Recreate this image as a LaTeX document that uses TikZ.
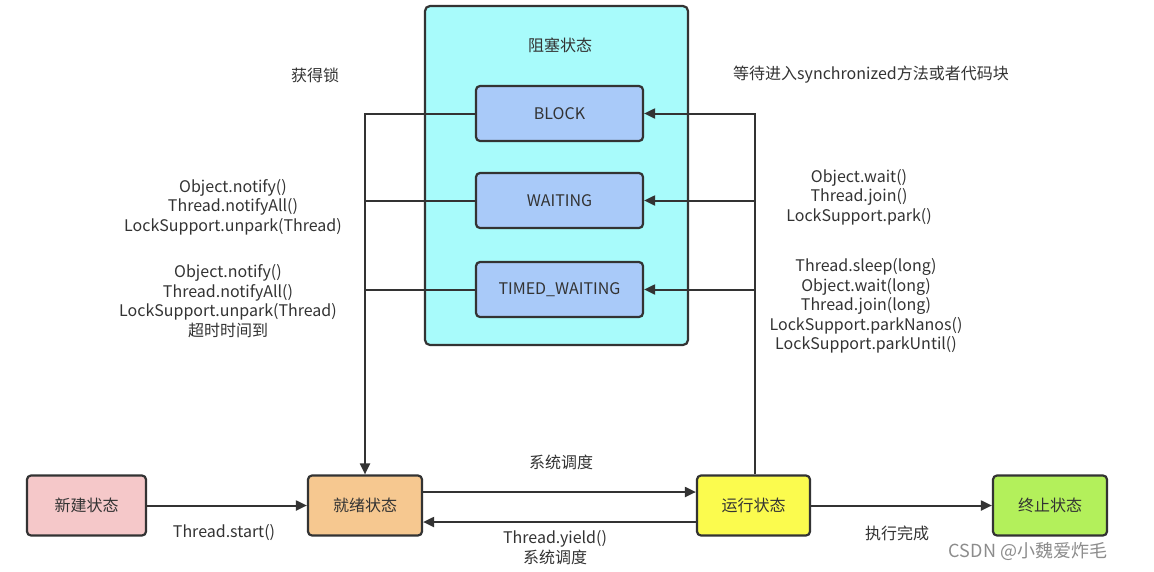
\documentclass[tikz,border=0pt]{standalone}
\usepackage{fontspec}
\setmainfont{Noto Sans CJK SC}
\usetikzlibrary{arrows.meta}
\definecolor{txt}{HTML}{333333}
\definecolor{ln}{HTML}{333333}
\definecolor{cyanbg}{HTML}{A8FBFB}
\definecolor{bluebox}{HTML}{A9CAF9}
\definecolor{pinkbox}{HTML}{F5C8C9}
\definecolor{orgbox}{HTML}{F6C890}
\definecolor{yelbox}{HTML}{FBFB4E}
\definecolor{grnbox}{HTML}{B3F05B}
\tikzset{
  statebox/.style={draw=ln, line width=2.2pt, rounded corners=4pt, minimum width=114pt, minimum height=60pt, text=txt, font=\fontsize{16}{19}\selectfont, inner sep=0pt},
  substate/.style={draw=ln, line width=2.2pt, rounded corners=4pt, minimum width=167pt, minimum height=55pt, fill=bluebox, text=txt, font=\fontsize{16}{19}\selectfont, inner sep=0pt},
  conn/.style={draw=ln, line width=2pt},
  arr/.style={conn, -{Triangle[length=11pt,width=10pt]}},
  lbl/.style={text=txt, font=\fontsize{16}{19.5}\selectfont, align=center, inner sep=0pt}
}
\begin{document}
\begin{tikzpicture}[x=1pt,y=-1pt]
\useasboundingbox[fill=white] (0,0) rectangle (1154,571);
% blocked container
\node[draw=ln, line width=2.2pt, rounded corners=5pt, fill=cyanbg, minimum width=263pt, minimum height=339pt, inner sep=0pt] (blk) at (556.5,175.5) {};
\node[lbl] (blkt) at (560,45) {阻塞状态};
\node[substate] (block) at (559.5,113.5) {BLOCK};
\node[substate] (wait) at (559.5,200.5) {WAITING};
\node[substate] (timed) at (559.5,289.5) {TIMED\_WAITING};
% main states
\node[statebox, fill=pinkbox, minimum width=119pt] (new) at (86.5,505.5) {新建状态};
\node[statebox, fill=orgbox] (ready) at (365,505.5) {就绪状态};
\node[statebox, fill=yelbox, minimum width=113pt] (run) at (753.5,505.5) {运行状态};
\node[statebox, fill=grnbox] (term) at (1050,505.5) {终止状态};
% coordinates for buses
\coordinate (lb1) at (365,113.5);
\coordinate (lb2) at (365,200.5);
\coordinate (lb3) at (365,289.5);
\coordinate (rb1) at (755,113.5);
\coordinate (rb2) at (755,200.5);
\coordinate (rb3) at (755,289.5);
% left bus
\draw[arr] (block.west) -- (lb1) -- (ready.north);
\draw[conn] (wait.west) -- (lb2);
\draw[conn] (timed.west) -- (lb3);
% right bus
\draw[arr] (run.north -| rb1) -- (rb1) -- (block.east);
\draw[arr] (rb2) -- (wait.east);
\draw[arr] (rb3) -- (timed.east);
% bottom
\draw[arr] (new.east) -- (ready.west);
\draw[arr] ([yshift=13.5pt]ready.east) -- ([yshift=13.5pt]run.west);
\draw[arr] ([yshift=-16.5pt]run.west) -- ([yshift=-16.5pt]ready.east);
\draw[arr] (run.east) -- (term.west);
% labels
\node[lbl] (l1) at (315,75) {获得锁};
\node[lbl] (l2) at (233,207) {Object.notify()\\Thread.notifyAll()\\LockSupport.unpark(Thread)};
\node[lbl] (l3) at (228,301) {Object.notify()\\Thread.notifyAll()\\LockSupport.unpark(Thread)\\超时时间到};
\node[lbl] (r1) at (871,75) {等待进入synchronized方法或者代码块};
\node[lbl] (r2) at (859,197) {Object.wait()\\Thread.join()\\LockSupport.park()};
\node[lbl] (r3) at (866,306) {Thread.sleep(long)\\Object.wait(long)\\Thread.join(long)\\LockSupport.parkNanos()\\LockSupport.parkUntil()};
\node[lbl] (b1) at (561,462) {系统调度};
\node[lbl] (b2) at (224,533) {Thread.start()};
\node[lbl] (b3) at (555,547.5) {Thread.yield()\\系统调度};
\node[lbl] (b4) at (897,533) {执行完成};
\node[text=black!45, font=\fontsize{18}{20}\selectfont, inner sep=0pt] (wm) at (1028,551) {CSDN @小魏爱炸毛};
\end{tikzpicture}
\end{document}
